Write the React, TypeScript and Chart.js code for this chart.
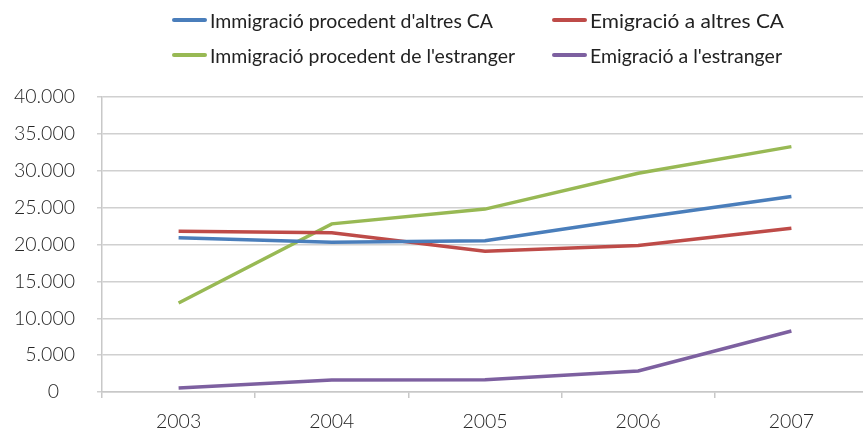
import React, { useEffect, useLayoutEffect, useRef } from "react";
import { Chart, registerables } from "chart.js";

Chart.register(...registerables);

const categories = ["2003", "2004", "2005", "2006", "2007"];
const immigracioAltresCA = [20900, 20300, 20500, 23600, 26500];
const emigracioAltresCA = [21800, 21600, 19100, 19850, 22200];
const immigracioEstranger = [12070, 22800, 24800, 29650, 33270];
const emigracioEstranger = [540, 1630, 1650, 2850, 8270];

const seriesLabels = [
  "Immigració procedent d'altres CA",
  "Emigració a altres CA",
  "Immigració procedent de l'estranger",
  "Emigració a l'estranger",
];
const seriesColors = ["#4a7ebb", "#be4b48", "#98b954", "#7d60a0"];

const yMin = 0;
const yMax = 40000;
const yStep = 5000;

function fmt(v: number): string {
  if (v === 0) return "0\u00a0\u00a0\u00a0";
  return String(Math.round(v)).replace(/\B(?=(\d{3})+(?!\d))/g, ".");
}

// legend layout: [markerLeft, centerY, targetTextWidth]
const legendPos: [number, number, number][] = [
  [172, 19.5, 283],
  [552, 19.5, 194],
  [172, 55, 305],
  [552, 55, 192],
];

const tickFont = { family: "Lato, 'Open Sans', sans-serif", size: 19.5, weight: 300 as any };

export default function App() {
  const canvasRef = useRef<HTMLCanvasElement | null>(null);
  const textRefs = useRef<(HTMLSpanElement | null)[]>([]);

  useLayoutEffect(() => {
    textRefs.current.forEach((el, i) => {
      if (!el) return;
      el.style.transform = "none";
      const w = el.getBoundingClientRect().width;
      if (w > 0) el.style.transform = `scaleX(${legendPos[i][2] / w})`;
    });
  }, []);

  useEffect(() => {
    if (!canvasRef.current) return;
    const data = [immigracioAltresCA, emigracioAltresCA, immigracioEstranger, emigracioEstranger];
    const chart = new Chart(canvasRef.current, {
      type: "line",
      data: {
        labels: categories,
        datasets: data.map((d, i) => ({
          label: seriesLabels[i],
          data: d,
          borderColor: seriesColors[i],
          backgroundColor: seriesColors[i],
          borderWidth: 3.5,
          pointRadius: 0,
          pointHoverRadius: 0,
          tension: 0,
          fill: false,
        })),
      },
      options: {
        responsive: false,
        animation: false,
        devicePixelRatio: 1,
        layout: { padding: { top: 97, bottom: 0, left: 0, right: 0 } },
        plugins: { legend: { display: false }, tooltip: { enabled: false } },
        scales: {
          x: {
            type: "category",
            offset: true,
            grid: {
              offset: true,
              drawOnChartArea: false,
              drawTicks: true,
              tickLength: 6,
              color: "#c8c8c8",
              lineWidth: 1.5,
            },
            border: { display: true, color: "#c8c8c8", width: 1.5 },
            ticks: {
              color: "#262626",
              font: tickFont,
              padding: 12,
              maxRotation: 0,
            },
            afterFit: (scale: any) => {
              scale.height = 39;
            },
          },
          y: {
            min: yMin,
            max: yMax,
            ticks: {
              stepSize: yStep,
              color: "#262626",
              font: tickFont,
              padding: 22,
              callback: (v: any) => fmt(Number(v)),
            },
            grid: {
              color: "#d0d0d0",
              lineWidth: 1.5,
              drawTicks: true,
              tickLength: 5,
            },
            border: { display: true, color: "#c8c8c8", width: 1.5 },
            afterFit: (scale: any) => {
              scale.width = 102;
            },
          },
        },
      },
    });
    return () => chart.destroy();
  }, []);

  return (
    <div
      style={{
        position: "absolute",
        left: 0,
        top: 0,
        width: 863,
        height: 431,
        overflow: "hidden",
        background: "#ffffff",
      }}
    >
      <canvas ref={canvasRef} width={868} height={431} style={{ display: "block" }} />
      {seriesLabels.map((label, i) => {
        const [left, cy] = legendPos[i];
        return (
          <div
            key={label}
            style={{
              position: "absolute",
              left,
              top: cy - 13,
              height: 26,
              display: "flex",
              alignItems: "center",
              whiteSpace: "nowrap",
            }}
          >
            <div style={{ width: 35, height: 4, borderRadius: 2, background: seriesColors[i], marginRight: 3 }} />
            <span
              ref={(el) => {
                textRefs.current[i] = el;
              }}
              style={{
                display: "inline-block",
                fontFamily: "Lato, 'Open Sans', sans-serif",
                fontWeight: 400,
                fontSize: 20,
                lineHeight: "26px",
                color: "#222222",
                transformOrigin: "left center",
              }}
            >
              {label}
            </span>
          </div>
        );
      })}
    </div>
  );
}
